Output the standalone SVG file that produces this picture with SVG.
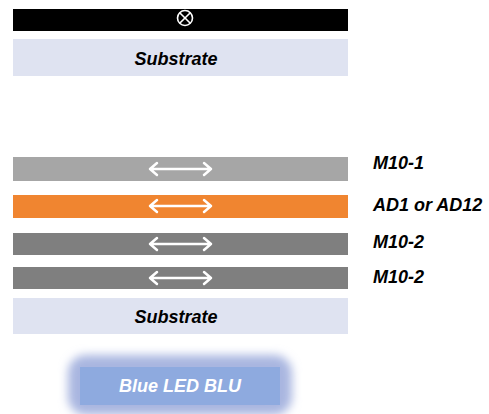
<svg xmlns="http://www.w3.org/2000/svg" width="489" height="414" viewBox="0 0 489 414">
<style>
.lbl{font-family:"Liberation Sans",Arial,sans-serif;font-weight:bold;font-style:italic;font-size:18px;fill:#000}
.mid{text-anchor:middle}
.arr{fill:none;stroke:#fff;stroke-width:2.5;stroke-linecap:round;stroke-linejoin:round}
.sub{fill:#dfe3f1}
</style>
<defs>
<filter id="glow" x="-30%" y="-60%" width="160%" height="220%">
<feGaussianBlur stdDeviation="5"/>
</filter>
<g id="dblarrow">
<path class="arr" d="M150,0 H211 M157,-6 L150,0 L157,6 M204,-6 L211,0 L204,6"/>
</g>
</defs>
<rect width="489" height="414" fill="#fff"/>
<g id="top-layer">
<rect x="13" y="9" width="335" height="22" fill="#000"/>
<circle cx="185" cy="18" r="7.5" fill="none" stroke="#fff" stroke-width="1.6"/>
<path d="M179.7,12.7 L190.3,23.3 M190.3,12.7 L179.7,23.3" stroke="#fff" stroke-width="1.6"/>
</g>
<g id="substrate-top">
<rect class="sub" x="13" y="39" width="335" height="37"/>
<text class="lbl mid" x="176" y="65">Substrate</text>
</g>
<g id="m10-1">
<rect x="13" y="157" width="335" height="24" fill="#a6a6a6"/>
<use href="#dblarrow" y="169"/>
<text class="lbl" x="373" y="169">M10-1</text>
</g>
<g id="ad">
<rect x="13" y="195" width="335" height="23" fill="#f08530"/>
<use href="#dblarrow" y="206"/>
<text class="lbl" x="373" y="211">AD1 or AD12</text>
</g>
<g id="m10-2a">
<rect x="13" y="233" width="335" height="22" fill="#7f7f7f"/>
<use href="#dblarrow" y="244"/>
<text class="lbl" x="373" y="248">M10-2</text>
</g>
<g id="m10-2b">
<rect x="13" y="267" width="335" height="22" fill="#7f7f7f"/>
<use href="#dblarrow" y="278"/>
<text class="lbl" x="373" y="283">M10-2</text>
</g>
<g id="substrate-bottom">
<rect class="sub" x="13" y="298" width="335" height="36"/>
<text class="lbl mid" x="176" y="323">Substrate</text>
</g>
<g id="blu">
<rect x="68" y="355" width="224" height="60" rx="18" fill="#a9b6e0" filter="url(#glow)"/>
<rect x="80" y="367" width="200" height="38" fill="#8eaadf"/>
<text class="lbl mid" x="180" y="392" style="fill:#fff">Blue LED BLU</text>
</g>
<g id="connectors"/>
</svg>
